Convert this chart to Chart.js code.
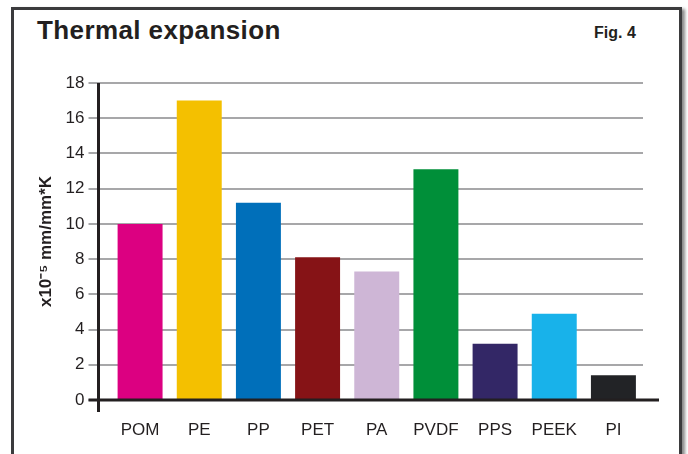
<!DOCTYPE html>
<html>
<head>
<meta charset="utf-8">
<script src="https://cdn.jsdelivr.net/npm/chart.js@4"></script>
<style>
    body { margin: 0; background: #fff; font-family: "Liberation Sans", Arial, sans-serif; }
    #wrap { position: relative; width: 688px; height: 454px; overflow: hidden; }
    #frame {
        position: absolute; left: 11px; top: 7px; width: 665px; height: 470px;
        border: 3px solid #3b3b3d; box-shadow: 3px 2px 3px #8a8a8a;
    }
    #title { position: absolute; left: 37px; top: 15px; font-size: 26px; font-weight: bold; color: #231f20; letter-spacing: 0.4px; }
    #fig { position: absolute; left: 594px; top: 24px; font-size: 16px; font-weight: bold; color: #231f20; }
    canvas { position: absolute; left: 0; top: 0; }
</style>
</head>
<body>
<div id="wrap">
    <div id="frame"></div>
    <div id="title">Thermal expansion</div>
    <div id="fig">Fig. 4</div>
    <canvas id="chart" width="688" height="454"></canvas>
</div>
<script>
const materials = ['POM', 'PE', 'PP', 'PET', 'PA', 'PVDF', 'PPS', 'PEEK', 'PI']
const expansion = [10, 17, 11.2, 8.1, 7.3, 13.1, 3.2, 4.9, 1.4]
const barColors = ['#dc0081', '#f4c000', '#006fba', '#861316', '#ceb6d6', '#008f39', '#332766', '#18b2ea', '#222326']
const yTicks = [0, 2, 4, 6, 8, 10, 12, 14, 16, 18]
const yTitle = 'x10\u207B\u2075 mm/mm*K'

// axis lines drawn a little apart from the bars, like the print
const axisLines = {
    id: 'axisLines',
    afterDatasetsDraw(chart) {
        const { ctx, chartArea, scales } = chart
        const y0 = scales.y.getPixelForValue(0)
        const yTop = scales.y.getPixelForValue(18)
        const axisX = chartArea.left - 12
        ctx.save()
        ctx.strokeStyle = '#231f20'
        ctx.lineWidth = 3
        ctx.beginPath()
        ctx.moveTo(axisX, yTop)
        ctx.lineTo(axisX, y0 + 12)
        ctx.moveTo(chartArea.left - 22, y0)
        ctx.lineTo(chartArea.right + 16, y0)
        ctx.stroke()
        ctx.restore()
    }
}

new Chart(document.getElementById('chart'), {
    type: 'bar',
    data: {
        labels: materials,
        datasets: [{
            data: expansion,
            backgroundColor: barColors,
            categoryPercentage: 1,
            barPercentage: 0.76
        }]
    },
    options: {
        responsive: false,
        animation: false,
        layout: { padding: { top: 83, right: 45, left: 0, bottom: 0 } },
        plugins: { legend: { display: false }, tooltip: { enabled: false } },
        scales: {
            x: {
                grid: { display: false, drawTicks: false },
                border: { display: false },
                ticks: { color: '#231f20', padding: 20, font: { family: 'Liberation Sans', size: 17 } },
                afterFit: s => { s.height = 54 }
            },
            y: {
                min: 0,
                max: 18,
                afterBuildTicks: s => { s.ticks = yTicks.map(v => ({ value: v })) },
                grid: { color: '#a7a7a9', lineWidth: 2, tickLength: 22 },
                border: { display: false },
                ticks: { color: '#231f20', padding: 4, font: { family: 'Liberation Sans', size: 17 } },
                title: {
                    display: true,
                    text: yTitle,
                    color: '#231f20',
                    padding: { top: 36, bottom: 0 },
                    font: { family: 'Liberation Sans', size: 17, weight: 'bold' }
                },
                afterFit: s => { s.width = 110.5 }
            }
        }
    },
    plugins: [axisLines]
})
</script>
</body>
</html>
